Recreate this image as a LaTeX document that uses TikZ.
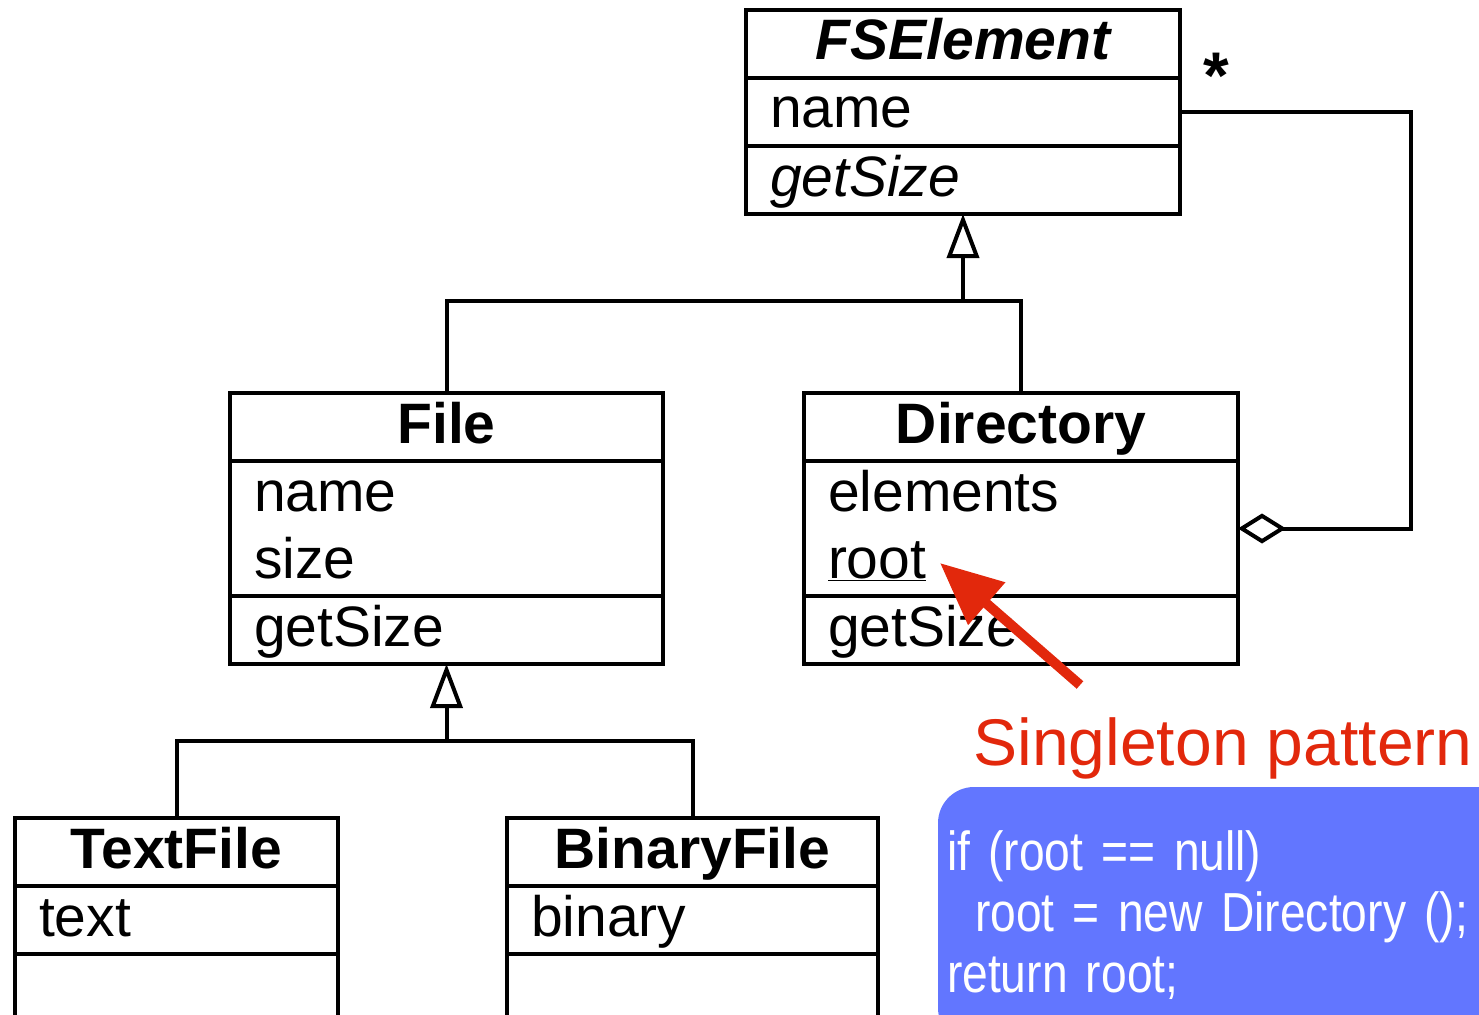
\documentclass[tikz,border=0pt]{standalone}
\usepackage{fontspec}
\setmainfont{Liberation Sans}
\newfontfamily\codefont[FakeStretch=0.84]{Liberation Sans}
\usetikzlibrary{shapes.multipart,arrows.meta}

\definecolor{notered}{RGB}{226,40,12}
\definecolor{noteblue}{RGB}{98,118,255}

\tikzstyle{umlclass}=[draw, line width=4pt, rectangle split, rectangle split parts=3,
  rectangle split part align={center,left,left},
  inner xsep=24pt, inner ysep=0pt, outer sep=0pt, anchor=north, align=left,
  font=\fontsize{57}{67}\selectfont]
\tikzstyle{codebox} = [fill=noteblue, rounded corners=36pt, text=white,
  anchor=north west, text width=580pt, align=left, inner xsep=9pt,
  inner ysep=44pt, outer sep=0pt, font=\codefont\fontsize{55}{61}\selectfont]
\tikzstyle{line} = [draw, line width=4pt]
\tikzstyle{generalize} = [line, -{Triangle[open,length=44pt,width=32pt]}]
\tikzstyle{aggregation} = [line, -{Diamond[open,length=48pt,width=30pt]}]
\tikzstyle{redarrow} = [draw=notered, line width=10pt,
  -{Triangle[length=62pt,width=54pt]}]
\newcommand{\umlstrut}{\rule[-16pt]{0pt}{64pt}}
\newcommand{\umlclass}[5]{node (#1) [umlclass, minimum width=#2]
  {\bfseries\umlstrut#3\umlstrut
   \nodepart{two}\umlstrut#4\umlstrut
   \nodepart{three}\umlstrut#5\umlstrut}}

\begin{document}
\begin{tikzpicture}[x=1pt, y=-1pt]
\useasboundingbox (0,0) rectangle (1479,1014);

% Draw the classes
\path (963,10)                 \umlclass{fs}{434pt}{\itshape FSElement}{name}{\itshape getSize};
\path (fs.south) +(-516.5,179) \umlclass{file}{433pt}{File}{name\\size}{getSize};
\path (fs.south) +(58,179)     \umlclass{dir}{434pt}{Directory}{elements\\\underline{root}}{getSize};
\path (file.south) +(-270,154) \umlclass{text}{323pt}{TextFile}{text}{\rule[-30pt]{0pt}{0pt}};
\path (file.south) +(246,154)  \umlclass{bin}{371pt}{BinaryFile}{binary}{\rule[-30pt]{0pt}{0pt}};

% Singleton note
\path (970,765) node (pattern) [anchor=base west, text=notered,
  font=\fontsize{66}{70}\selectfont] {Singleton pattern};
\path (938,787) node (code) [codebox]
  {if (root == null)\\\hspace*{28pt}root = new Directory ();\\return root;};

% Draw arrows between elements
\path (fs.south) +(0,87) coordinate (fsjoin);
\path (file.south) +(0,77) coordinate (filejoin);
\path [generalize] (fsjoin) -- (fs.south);
\path [line] (file.north) |- (fsjoin) -| (dir.north);
\path [generalize] (filejoin) -- (file.south);
\path [line] (text.north) |- (filejoin) -| (bin.north);
\path [aggregation] (fs.east) -- +(231,0) |- (dir.east);
\path (fs.east) +(36,-13) node (many) [anchor=base,
  font=\bfseries\fontsize{66}{70}\selectfont] {*};

% Pointer from the note to the static field
\coordinate (tail) at (1080,685);
\coordinate (head) at (940,563);
\path [redarrow] (tail) -- (head);

\end{tikzpicture}
\end{document}
